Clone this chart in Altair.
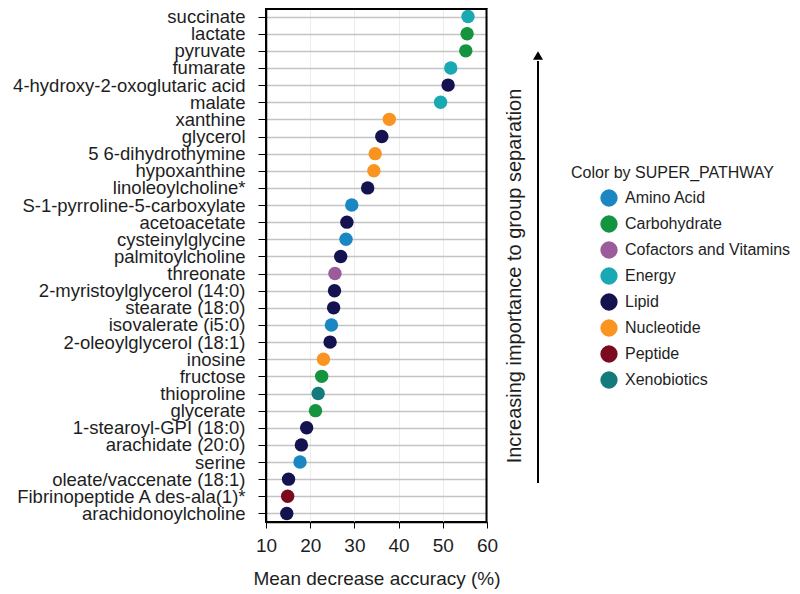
import altair as alt
import pandas as pd

metabolites = [
    "succinate", "lactate", "pyruvate", "fumarate", "4-hydroxy-2-oxoglutaric acid",
    "malate", "xanthine", "glycerol", "5 6-dihydrothymine", "hypoxanthine",
    "linoleoylcholine*", "S-1-pyrroline-5-carboxylate", "acetoacetate", "cysteinylglycine",
    "palmitoylcholine", "threonate", "2-myristoylglycerol (14:0)", "stearate (18:0)",
    "isovalerate (i5:0)", "2-oleoylglycerol (18:1)", "inosine", "fructose", "thioproline",
    "glycerate", "1-stearoyl-GPI (18:0)", "arachidate (20:0)", "serine",
    "oleate/vaccenate (18:1)", "Fibrinopeptide A des-ala(1)*", "arachidonoylcholine",
]
accuracy = [
    55.7, 55.5, 55.2, 51.8, 51.2,
    49.5, 37.9, 36.2, 34.7, 34.4,
    33.0, 29.4, 28.3, 28.1,
    26.9, 25.6, 25.5, 25.3,
    24.8, 24.5, 23.0, 22.6, 21.8,
    21.2, 19.2, 18.0, 17.7,
    15.1, 14.9, 14.7,
]
pathway = [
    "Energy", "Carbohydrate", "Carbohydrate", "Energy", "Lipid",
    "Energy", "Nucleotide", "Lipid", "Nucleotide", "Nucleotide",
    "Lipid", "Amino Acid", "Lipid", "Amino Acid",
    "Lipid", "Cofactors and Vitamins", "Lipid", "Lipid",
    "Amino Acid", "Lipid", "Nucleotide", "Carbohydrate", "Xenobiotics",
    "Carbohydrate", "Lipid", "Lipid", "Amino Acid",
    "Lipid", "Peptide", "Lipid",
]
pathways = ["Amino Acid", "Carbohydrate", "Cofactors and Vitamins", "Energy",
            "Lipid", "Nucleotide", "Peptide", "Xenobiotics"]
colors = ["#1b87c2", "#14943f", "#9c5b9b", "#19a9b3",
          "#14134f", "#f99420", "#7b0a1e", "#137b7c"]
x_ticks = [10, 20, 30, 40, 50, 60]
x_title = "Mean decrease accuracy (%)"
arrow_label = "Increasing importance to group separation"
legend_title = "Color by SUPER_PATHWAY"

FONT = "Liberation Sans"
TXT = "#1e1e1e"
W, H = 221, 514

df = pd.DataFrame({"metabolite": metabolites, "accuracy": accuracy, "pathway": pathway})

points = alt.Chart(df).mark_circle(size=180, opacity=1).encode(
    x=alt.X("accuracy:Q",
            scale=alt.Scale(domain=[10, 60], nice=False, zero=False),
            axis=alt.Axis(values=x_ticks, title=x_title, tickSize=6, labelPadding=8,
                          labelFontSize=19, titleFontSize=19, titleFontWeight="normal",
                          titlePadding=14, grid=True, gridColor="#ececec", gridWidth=1,
                          labelFlush=False, labelFont=FONT, titleFont=FONT)),
    y=alt.Y("metabolite:N", sort=metabolites,
            scale=alt.Scale(type="point", padding=0.5),
            axis=alt.Axis(title=None, tickSize=8, labelPadding=13, labelFontSize=18.5,
                          labelFont=FONT, grid=True, gridColor="#c4c4c4", gridWidth=1.5,
                          labelLimit=400)),
    color=alt.Color("pathway:N",
                    scale=alt.Scale(domain=pathways, range=colors),
                    legend=alt.Legend(title=legend_title, orient="none",
                                      legendX=305, legendY=157,
                                      titleFontSize=16, titleFontWeight="normal",
                                      titleFont=FONT, titleColor=TXT, titleLimit=400,
                                      labelFontSize=16, labelFont=FONT, labelColor=TXT,
                                      labelLimit=400, symbolSize=300, symbolType="circle",
                                      rowPadding=8, titlePadding=8, symbolOffset=29,
                                      labelOffset=7, symbolStrokeWidth=0)),
)

label_df = pd.DataFrame({"label": [arrow_label]})
side_text = alt.Chart(label_df).mark_text(
    angle=270, fontSize=20, font=FONT, color=TXT, align="center", baseline="middle"
).encode(x=alt.value(249), y=alt.value(268), text="label:N")

arrow_line = alt.Chart(label_df).mark_rule(color="black", strokeWidth=2).encode(
    x=alt.value(272), y=alt.value(53), y2=alt.value(475))

arrow_head = alt.Chart(label_df).mark_point(
    shape="triangle-up", filled=True, size=100, color="black", opacity=1
).encode(x=alt.value(272), y=alt.value(47.5))

frame_top = alt.Chart(label_df).mark_rule(color="black", strokeWidth=2).encode(
    x=alt.value(0), x2=alt.value(W), y=alt.value(1))
frame_right = alt.Chart(label_df).mark_rule(color="black", strokeWidth=2).encode(
    x=alt.value(W - 0.5), y=alt.value(0), y2=alt.value(H))

chart = alt.layer(points, frame_top, frame_right, arrow_line, arrow_head, side_text).properties(
    width=W, height=H,
    autosize=alt.AutoSizeParams(type="none"),
    padding={"left": 258, "top": 0, "right": 305, "bottom": 72},
    background="white",
).configure_view(stroke="black", strokeWidth=2).configure_axis(
    domainColor="black", tickColor="black", labelColor=TXT, titleColor=TXT,
    domainWidth=1.5,
)

chart.save("out.html", embed_options={"renderer": "svg", "actions": False})
